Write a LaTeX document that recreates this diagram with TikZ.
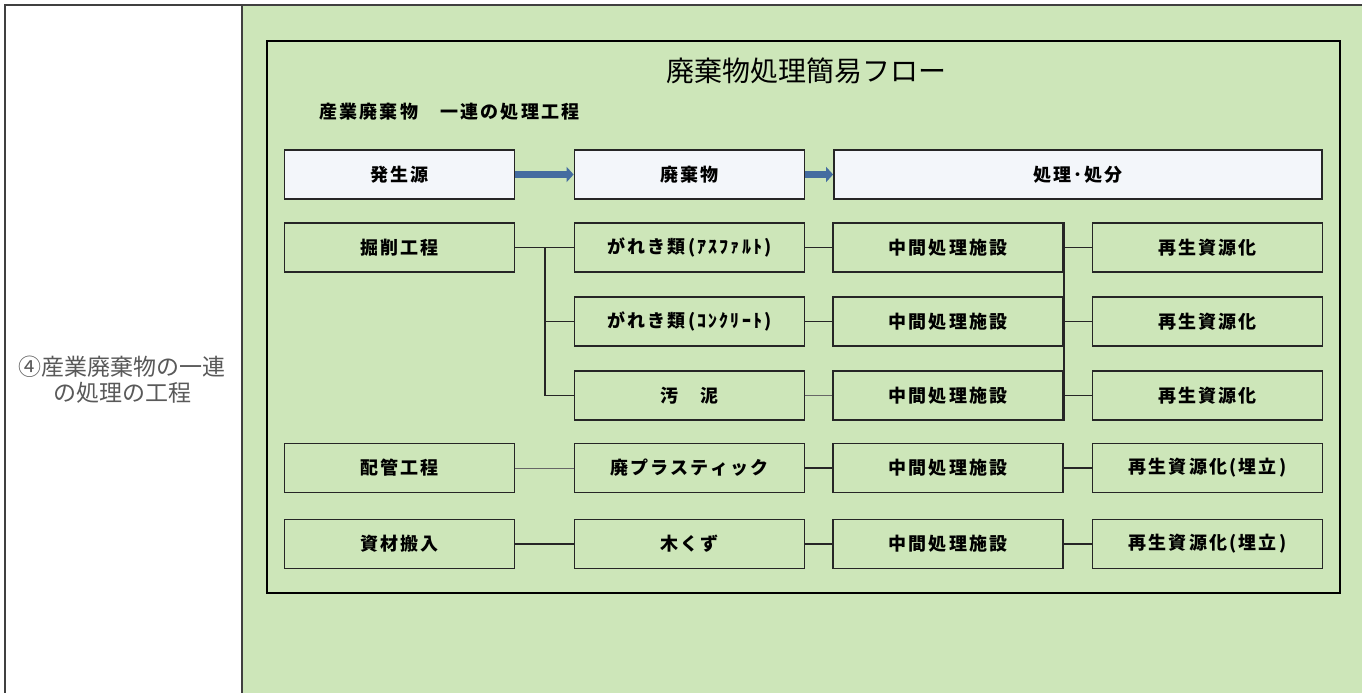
\documentclass[tikz,border=0pt]{standalone}
\usepackage{fontspec}
\usetikzlibrary{arrows.meta}
\newfontfamily\jp{Noto Sans CJK JP}
\newfontfamily\jpbox{Noto Sans CJK JP}[LetterSpace=12]
\definecolor{cellgreen}{RGB}{205,230,185}
\definecolor{headfill}{RGB}{243,246,250}
\definecolor{flowblue}{RGB}{68,108,160}
\tikzset{
  stagebox/.style={draw=black!85, line width=1.8pt, minimum width=230pt, minimum height=49pt,
    inner sep=0pt, font=\jpbox\bfseries\fontsize{18}{20}\selectfont},
  headbox/.style={stagebox, fill=headfill},
  link/.style={line width=1.8pt, black!85},
  thinlink/.style={line width=0.9pt, black!60},
  flowarrow/.style={line width=6.5pt, flowblue, -{Triangle[length=7pt,width=15pt]}}
}

\begin{document}
\begin{tikzpicture}[x=1pt,y=-1pt]
\useasboundingbox (0,0) rectangle (1362,693);
% table cells
\fill[white] (0,0) rectangle (1362,693);
\fill[cellgreen] (242,5) rectangle (1362,693);
\draw[black!75, line width=1.2pt] (1362,5) -- (5,5) -- (5,693);
\draw[black!75, line width=1.2pt] (242,5) -- (242,693);
\node[font=\jp\fontsize{23}{26}\selectfont, text=black!65, align=center] (item) at (122,380)
  {④産業廃棄物の一連\\の処理の工程};

% frame and headings
\draw[line width=2pt] (267,41) rectangle (1340,593);
\node[font=\jp\fontsize{28}{30}\selectfont] (title) at (806,71) {廃棄物処理簡易フロー};
\node[font=\jpbox\bfseries\fontsize{18}{20}\selectfont, anchor=west] (subtitle) at (316,112)
  {産業廃棄物　一連の処理工程};

% header row
\node[headbox] (src) at (399.5,174.5) {発生源};
\node[headbox] (waste) at (689.5,174.5) {廃棄物};
\node[headbox, minimum width=488pt] (treat) at (1078,174.5) {処理･処分};
\draw[flowarrow] (src.east) -- (waste.west);
\draw[flowarrow] (waste.east) -- (treat.west);

% sources
\node[stagebox] (dig) at (399.5,247.5) {掘削工程};
\node[stagebox] (pipe) at (399.5,468) {配管工程};
\node[stagebox] (supply) at (399.5,544) {資材搬入};
% wastes
\node[stagebox] (asph) at (689.5,247.5) {がれき類(ｱｽﾌｧﾙﾄ)};
\node[stagebox] (conc) at (689.5,321.5) {がれき類(ｺﾝｸﾘｰﾄ)};
\node[stagebox] (sludge) at (689.5,395.5) {汚　泥};
\node[stagebox] (plastic) at (689.5,468) {廃プラスティック};
\node[stagebox] (wood) at (689.5,544) {木くず};
% facilities and recycling
\foreach \r/\y/\t in {1/247.5/再生資源化, 2/321.5/再生資源化, 3/395.5/再生資源化,
    4/468/再生資源化(埋立), 5/544/再生資源化(埋立)} {
  \node[stagebox] (mid\r) at (948,\y) {中間処理施設};
  \node[stagebox] (rec\r) at (1207.5,\y) {\t};
}

% connectors
\draw[link] (dig) -- (asph);
\coordinate (fork) at (545,247.5);
\draw[link] (fork) |- (sludge.west);
\draw[link] (fork |- conc.west) -- (conc.west);
\draw[thinlink] (pipe) -- (plastic);
\draw[link] (supply) -- (wood);
\draw[link] (asph) -- (mid1);
\draw[link] (conc) -- (mid2);
\draw[thinlink] (sludge) -- (mid3);
\draw[link] (plastic) -- (mid4);
\draw[link] (wood) -- (mid5);
\draw[link] (mid1.north east) -- (mid3.south east);
\foreach \r in {1,...,5}
\draw[link] (mid\r) -- (rec\r);
\end{tikzpicture}
\end{document}
